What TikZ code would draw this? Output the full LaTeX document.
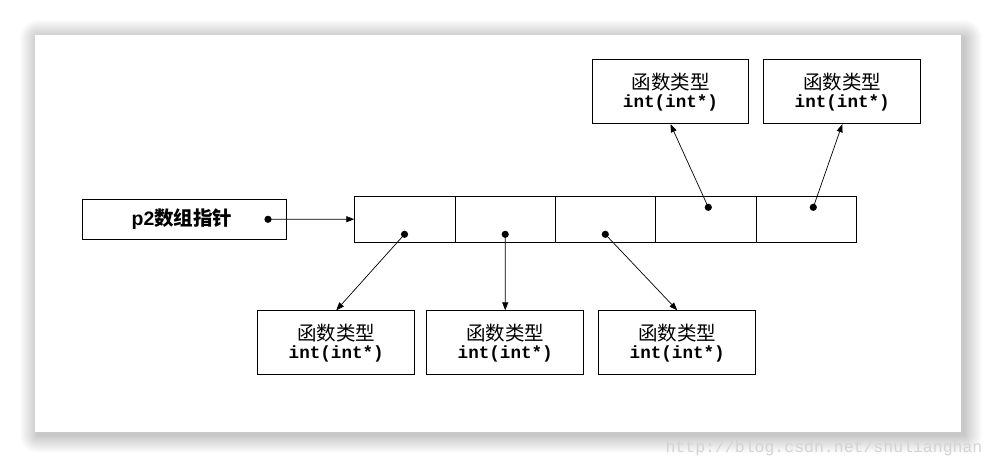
\documentclass[tikz,border=0pt]{standalone}
\usepackage{fontspec}
\newfontfamily\cjk{Noto Sans CJK SC}
\newfontfamily\monob{Liberation Mono}
\newfontfamily\sansb{Liberation Sans}
\usetikzlibrary{arrows.meta,positioning}
\begin{document}
\begin{tikzpicture}[x=1pt,y=-1pt,
  box/.style={draw=black,line width=0.9pt,fill=white,inner sep=0pt,anchor=north west,align=center},
  cell/.style={draw=black,line width=0.9pt,inner sep=0pt,minimum width=100.3pt,minimum height=46.5pt,anchor=north west},
  arr/.style={line width=0.7pt,-{Triangle[length=8pt,width=6pt]}},
  dotc/.style={fill=black},
  cjkl/.style={font=\fontsize{19.5pt}{22pt}\selectfont\cjk},
  monol/.style={font=\fontsize{17.6pt}{21pt}\selectfont\monob\bfseries}
]
\useasboundingbox (0,0) rectangle (996,467);
\fill[white] (0,0) rectangle (996,467);
% shadow
\foreach \i in {1,...,18}{
  \fill[black,opacity=0.012,rounded corners=\i pt] (35-\i+3,35-\i+3) rectangle (961+\i+3,432+\i+3);
}
\fill[white] (35,35) rectangle (961,432);

% pointer box
\node[box,minimum width=204pt,minimum height=40pt] (p2) at (81.5,199.3) {};
\node (p2t) at (182,219.5) {\fontsize{19.5pt}{22pt}\selectfont\sansb\bfseries p2\cjk 数组指针};
\coordinate (p2dot) at (268,219.3);

% array cells
\node[cell] (c1) at (354.3,195.5) {};
\node[cell] (c2) at (454.6,195.5) {};
\node[cell] (c3) at (554.9,195.5) {};
\node[cell] (c4) at (655.2,195.5) {};
\node[cell] (c5) at (755.5,195.5) {};

\coordinate (d1) at (404.5,234.3);
\coordinate (d2) at (505.2,234.3);
\coordinate (d3) at (605.3,234.3);
\coordinate (d4) at (708.3,207.3);
\coordinate (d5) at (813.3,207.3);

% function boxes
\node[box,minimum width=156.7pt,minimum height=64pt] (fa) at (591.7,59.3) {};
\node[box,minimum width=157pt,minimum height=64pt] (fb) at (763.3,59.3) {};
\node[box,minimum width=157pt,minimum height=64pt] (fc) at (257.3,310.3) {};
\node[box,minimum width=157pt,minimum height=64pt] (fd) at (426.3,310.3) {};
\node[box,minimum width=157pt,minimum height=64pt] (fe) at (598.3,310.3) {};

\foreach \n in {fa,fb,fc,fd,fe}{
  \node[cjkl] (\n t1) at ([yshift=10pt]\n.center) {函数类型};
  \node[monol] (\n t2) at ([yshift=-11pt]\n.center) {int(int*)};
}

% dots
\foreach \d in {p2dot,d1,d2,d3,d4,d5}{
  \fill[dotc] (\d) circle (3.6pt);
}

% connectors
\draw[arr] (p2dot) -- (c1.west);
\draw[arr] (d1) -- (fc.north);
\draw[arr] (d2) -- (fd.north);
\draw[arr] (d3) -- (fe.north);
\draw[arr] (d4) -- (fa.south);
\draw[arr] (d5) -- (fb.south);

% watermark
\node[text=black!17,font=\fontsize{16.5pt}{20pt}\selectfont\monob] (wm) at (824,448) {http://blog.csdn.net/shulianghan};
\end{tikzpicture}
\end{document}
